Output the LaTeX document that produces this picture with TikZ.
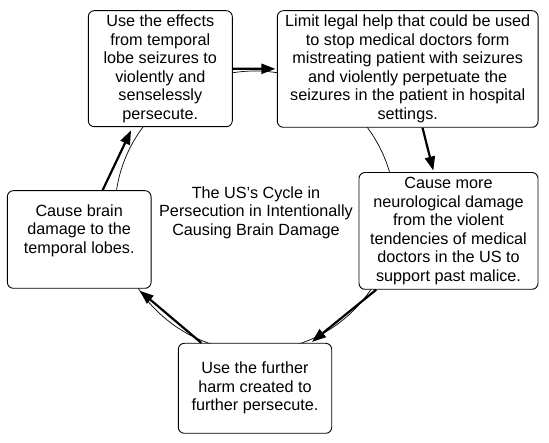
\documentclass[tikz,border=0pt]{standalone}
\usepackage{fontspec}
\setmainfont{Liberation Sans}
\usetikzlibrary{arrows.meta}
\begin{document}
\begin{tikzpicture}[x=1pt,y=-1pt,
  txt/.style={align=center, inner sep=0pt, font=\fontsize{16.2}{18.5}\selectfont},
  box/.style={txt, draw, line width=0.9pt, rounded corners=6pt, fill=white},
  flow/.style={line width=2.2pt, shorten >=1.5pt, -{Triangle[length=14pt,width=10pt]}},
  ring/.style={circle, draw, line width=0.7pt, inner sep=0pt, minimum size=280pt}]
\useasboundingbox (0,0) rectangle (549,443);
\node[ring] (ring) at (255,211) {};
\node[box, minimum width=144pt, minimum height=116pt] (b1) at (160.3,68.7)
  {Use the effects\\from temporal\\lobe seizures to\\violently and\\senselessly\\persecute.};
\node[box, minimum width=260.7pt, minimum height=116.6pt] (b2) at (407.7,69)
  {Limit legal help that could be used\\to stop medical doctors form\\mistreating patient with seizures\\and violently perpetuate the\\seizures in the patient in hospital\\settings.};
\node[box, minimum width=179pt, minimum height=116.8pt] (b3) at (448.5,230.9)
  {Cause more\\neurological damage\\from the violent\\tendencies of medical\\doctors in the US to\\support past malice.};
\node[box, minimum width=153.4pt, minimum height=90pt] (b4) at (255,388.3)
  {Use the further\\harm created to\\further persecute.};
\node[box, minimum width=143.7pt, minimum height=97.6pt] (b5) at (79.2,239.5)
  {Cause brain\\damage to the\\temporal lobes.\\[3pt]\mbox{}};
\node[txt] (title) at (256,212.7)
  {The US’s Cycle in\\Persecution in Intentionally\\Causing Brain Damage};
\draw[flow] (b1) -- (b2);
\draw[flow] (b2) -- (b3);
\draw[flow] (b3) -- (b4);
\draw[flow, shorten >=3pt] (b4) -- (b5);
\draw[flow, shorten >=3.5pt] (b5) -- (b1);
\end{tikzpicture}
\end{document}
